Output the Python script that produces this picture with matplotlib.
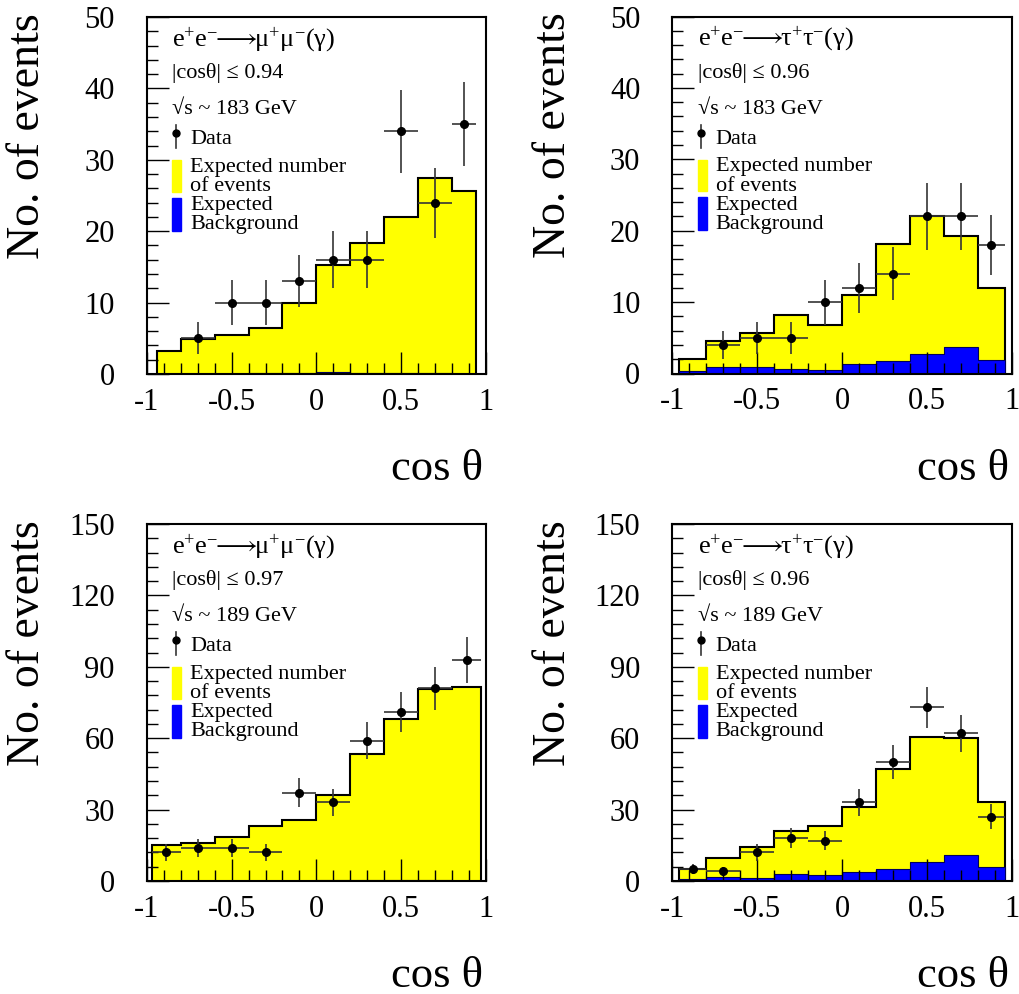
import matplotlib
matplotlib.use('Agg')
import matplotlib.pyplot as plt
import numpy as np
from matplotlib.ticker import MultipleLocator, FixedLocator, FixedFormatter
from matplotlib.patches import Rectangle

plt.rcParams['font.family'] = ['Liberation Serif', 'DejaVu Serif']
plt.rcParams['mathtext.fontset'] = 'custom'
plt.rcParams['mathtext.rm'] = 'Liberation Serif'
plt.rcParams['mathtext.it'] = 'Liberation Serif:italic'
plt.rcParams['axes.unicode_minus'] = False

nan = np.nan
# ---- data ----
edges_mm183 = [-0.94, -0.8, -0.6, -0.4, -0.2, 0.0, 0.2, 0.4, 0.6, 0.8, 0.94]
exp_mm183 = [3.2, 4.9, 5.4, 6.5, 10.0, 15.2, 18.4, 22.0, 27.4, 25.7]
bkg_mm183 = [0.0, 0.0, 0.0, 0.1, 0.1, 0.3, 0.2, 0.1, 0.1, 0.0]
data_mm183 = [nan, 5, 10, 10, 13, 16, 16, 34, 24, 35]

edges_tt183 = [-0.96, -0.8, -0.6, -0.4, -0.2, 0.0, 0.2, 0.4, 0.6, 0.8, 0.96]
exp_tt183 = [2.1, 4.6, 5.7, 8.2, 6.8, 11.0, 18.1, 22.1, 19.2, 12.0]
bkg_tt183 = [0.4, 0.85, 0.85, 0.7, 0.5, 1.3, 1.8, 2.7, 3.7, 1.9]
data_tt183 = [nan, 4, 5, 5, 10, 12, 14, 22, 22, 18]

edges_mm189 = [-0.97, -0.8, -0.6, -0.4, -0.2, 0.0, 0.2, 0.4, 0.6, 0.8, 0.97]
exp_mm189 = [15.3, 15.8, 18.3, 23.2, 25.6, 36.0, 53.5, 68.2, 80.7, 81.5]
bkg_mm189 = [0.1, 0.1, 0.1, 0.2, 0.2, 0.3, 0.3, 0.3, 0.3, 0.2]
data_mm189 = [12, 14, 14, 12, 37, 33, 59, 71, 81, 93]

edges_tt189 = [-0.96, -0.8, -0.6, -0.4, -0.2, 0.0, 0.2, 0.4, 0.6, 0.8, 0.96]
exp_tt189 = [4.9, 9.8, 14.4, 21.0, 23.0, 31.1, 47.1, 60.6, 59.9, 33.3]
bkg_tt189 = [0.8, 1.8, 1.4, 2.9, 2.5, 3.8, 5.0, 8.1, 11.1, 5.9]
data_tt189 = [5, 4, 12, 18, 17, 33, 50, 73, 62, 27]

titles = [r'$\mathrm{e^{+}e^{-}\!\!\longrightarrow\!\!\mu^{+}\mu^{-}(\gamma)}$',
          r'$\mathrm{e^{+}e^{-}\!\!\longrightarrow\!\!\tau^{+}\tau^{-}(\gamma)}$',
          r'$\mathrm{e^{+}e^{-}\!\!\longrightarrow\!\!\mu^{+}\mu^{-}(\gamma)}$',
          r'$\mathrm{e^{+}e^{-}\!\!\longrightarrow\!\!\tau^{+}\tau^{-}(\gamma)}$']
cuts = ['|cosθ| ≤ 0.94', '|cosθ| ≤ 0.96', '|cosθ| ≤ 0.97', '|cosθ| ≤ 0.96']
energies = ['√s ~ 183 GeV', '√s ~ 183 GeV', '√s ~ 189 GeV', '√s ~ 189 GeV']
ymax = [50, 50, 150, 150]
ymajor = [10, 10, 30, 30]
yminor = [2, 2, 6, 6]
xticks = [-1, -0.5, 0, 0.5, 1]
xticklabels = ['-1', '-0.5', '0', '0.5', '1']

panels = [(edges_mm183, exp_mm183, bkg_mm183, data_mm183),
          (edges_tt183, exp_tt183, bkg_tt183, data_tt183),
          (edges_mm189, exp_mm189, bkg_mm189, data_mm189),
          (edges_tt189, exp_tt189, bkg_tt189, data_tt189)]

W, H = 1019, 994
fig = plt.figure(figsize=(W / 100, H / 100), dpi=100)
rects_px = [(146.7, 17, 339.5, 357), (672.3, 16.5, 339.5, 357),
            (146.7, 524, 339.5, 357), (672.3, 524, 339.5, 357)]

YEL = '#ffff00'
BLU = '#0000ff'
FS = 16

for i, (l, t, w, h) in enumerate(rects_px):
    ax = fig.add_axes([l / W, 1 - (t + h) / H, w / W, h / H])
    edges, expv, bkg, dat = panels[i]
    edges = np.array(edges)
    expv = np.array(expv)
    bkg = np.array(bkg)
    dat = np.array(dat, dtype=float)

    ax.stairs(expv, edges, fill=True, color=YEL, zorder=1)
    ax.stairs(expv, edges, baseline=0, color='black', lw=1.5, zorder=1.2)
    ax.stairs(bkg, edges, fill=True, color=BLU, zorder=1.4)
    ax.stairs(bkg, edges, baseline=0, color='#00005a', lw=0.8, zorder=1.5)

    centers = (edges[:-1] + edges[1:]) / 2
    halfw = (edges[1:] - edges[:-1]) / 2
    m = ~np.isnan(dat)
    ax.errorbar(centers[m], dat[m], xerr=halfw[m], yerr=np.sqrt(dat[m]),
                fmt='o', color='black', ms=5.5, ecolor='#353535',
                elinewidth=1.2, capsize=0, zorder=4)

    ax.set_xlim(-1, 1)
    ax.set_ylim(0, ymax[i])
    ax.xaxis.set_major_locator(FixedLocator(xticks))
    ax.xaxis.set_major_formatter(FixedFormatter(xticklabels))
    ax.xaxis.set_minor_locator(MultipleLocator(0.1))
    ax.yaxis.set_major_locator(MultipleLocator(ymajor[i]))
    ax.yaxis.set_minor_locator(MultipleLocator(yminor[i]))
    ax.tick_params(which='both', direction='in', top=False, right=False, width=1.0)
    ax.tick_params(which='major', length=16)
    ax.tick_params(which='minor', length=8)
    ax.tick_params(axis='x', which='major', labelsize=22, pad=10)
    ax.tick_params(axis='y', which='major', labelsize=22, pad=23)
    for s in ax.spines.values():
        s.set_linewidth(1.5)

    # axis titles
    ax.text(-0.350, 1.011, 'No. of events', rotation=90, ha='center', va='top',
            fontsize=33, transform=ax.transAxes)
    ax.text(0.992, -0.297, 'cos θ', ha='right', va='baseline', fontsize=32,
            transform=ax.transAxes)

    # legend block
    tr = ax.transAxes
    ax.text(0.075, 0.919, titles[i], fontsize=19, va='baseline', transform=tr)
    ax.text(0.075, 0.829, cuts[i], fontsize=FS, va='baseline', transform=tr)
    ax.text(0.075, 0.728, energies[i], fontsize=FS, va='baseline', transform=tr)
    ax.plot([0.086, 0.086], [0.633, 0.697], color='#353535', lw=1.2, transform=tr, zorder=5)
    ax.plot([0.086], [0.675], 'o', color='black', ms=5, transform=tr, zorder=5)
    ax.text(0.128, 0.644, 'Data', fontsize=FS, va='baseline', transform=tr)
    ax.add_patch(Rectangle((0.075, 0.510), 0.026, 0.089, color=YEL, transform=tr, zorder=5))
    ax.text(0.128, 0.566, 'Expected number', fontsize=FS, va='baseline', transform=tr)
    ax.text(0.128, 0.512, 'of events', fontsize=FS, va='baseline', transform=tr)
    ax.add_patch(Rectangle((0.075, 0.401), 0.026, 0.092, color=BLU, transform=tr, zorder=5))
    ax.text(0.128, 0.459, 'Expected', fontsize=FS, va='baseline', transform=tr)
    ax.text(0.128, 0.406, 'Background', fontsize=FS, va='baseline', transform=tr)

fig.savefig('out.png', dpi=100)
